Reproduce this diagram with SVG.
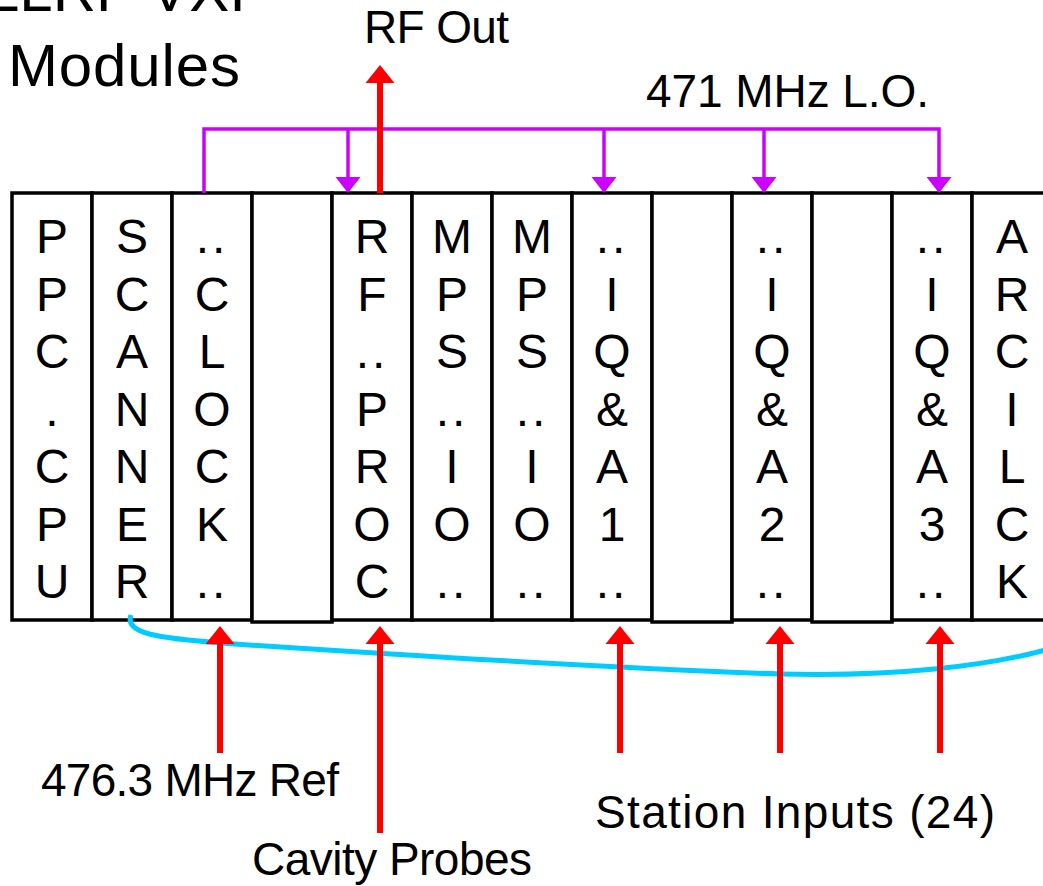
<svg xmlns="http://www.w3.org/2000/svg" width="1043" height="886" viewBox="0 0 1043 886">
<style>
.mod{fill:#fff;stroke:#000;stroke-width:3.5}
.ml{font-family:"Liberation Sans",Arial,sans-serif;font-size:48px;fill:#000;text-anchor:middle}
.lbl{font-family:"Liberation Sans",Arial,sans-serif;font-size:46px;fill:#000}
.ttl{font-family:"Liberation Sans",Arial,sans-serif;font-size:60px;fill:#000}
.red{stroke:#FF0000;stroke-width:6;fill:none}
.pur{stroke:#CC00FF;stroke-width:3.5;fill:none}
.cyan{stroke:#00CCFF;stroke-width:5;fill:none}
</style>
<defs>
<marker id="ahRed" markerUnits="userSpaceOnUse" viewBox="0 -15 18 30" markerWidth="18" markerHeight="30" refX="0" refY="0" orient="auto">
<path d="M0,-14.5 L18,0 L0,14.5 z" fill="#FF0000"/>
</marker>
<marker id="ahPur" markerUnits="userSpaceOnUse" viewBox="0 -13 16 26" markerWidth="16" markerHeight="26" refX="0" refY="0" orient="auto">
<path d="M0,-12.5 L16,0 L0,12.5 z" fill="#CC00FF"/>
</marker>
</defs>
<rect x="0" y="0" width="1043" height="886" fill="#fff"/>

<g id="title">
<text class="ttl" x="246" y="11" text-anchor="end">LLRF VXI</text>
<text class="ttl" x="8" y="86" textLength="232">Modules</text>
</g>

<g id="mod-ppc-cpu">
<rect class="mod" x="12" y="193" width="80" height="427"/>
<text class="ml" x="52" y="253">P</text><text class="ml" x="52" y="310.5">P</text><text class="ml" x="52" y="368">C</text><text class="ml" x="52" y="425.5">.</text><text class="ml" x="52" y="483">C</text><text class="ml" x="52" y="540.5">P</text><text class="ml" x="52" y="598">U</text>
</g>
<g id="mod-scanner">
<rect class="mod" x="92" y="193" width="80" height="427"/>
<text class="ml" x="132" y="253">S</text><text class="ml" x="132" y="310.5">C</text><text class="ml" x="132" y="368">A</text><text class="ml" x="132" y="425.5">N</text><text class="ml" x="132" y="483">N</text><text class="ml" x="132" y="540.5">E</text><text class="ml" x="132" y="598">R</text>
</g>
<g id="mod-clock">
<rect class="mod" x="172" y="193" width="80" height="427"/>
<text class="ml" x="212" y="253" letter-spacing="3">..</text><text class="ml" x="212" y="310.5">C</text><text class="ml" x="212" y="368">L</text><text class="ml" x="212" y="425.5">O</text><text class="ml" x="212" y="483">C</text><text class="ml" x="212" y="540.5">K</text><text class="ml" x="212" y="598" letter-spacing="3">..</text>
</g>
<g id="mod-blank1">
<rect class="mod" x="252" y="193" width="80" height="429"/>
</g>
<g id="mod-rf-proc">
<rect class="mod" x="332" y="193" width="80" height="427"/>
<text class="ml" x="372" y="253">R</text><text class="ml" x="372" y="310.5">F</text><text class="ml" x="372" y="368" letter-spacing="3">..</text><text class="ml" x="372" y="425.5">P</text><text class="ml" x="372" y="483">R</text><text class="ml" x="372" y="540.5">O</text><text class="ml" x="372" y="598">C</text>
</g>
<g id="mod-mps-io-1">
<rect class="mod" x="412" y="193" width="80" height="427"/>
<text class="ml" x="452" y="253">M</text><text class="ml" x="452" y="310.5">P</text><text class="ml" x="452" y="368">S</text><text class="ml" x="452" y="425.5" letter-spacing="3">..</text><text class="ml" x="452" y="483">I</text><text class="ml" x="452" y="540.5">O</text><text class="ml" x="452" y="598" letter-spacing="3">..</text>
</g>
<g id="mod-mps-io-2">
<rect class="mod" x="492" y="193" width="80" height="427"/>
<text class="ml" x="532" y="253">M</text><text class="ml" x="532" y="310.5">P</text><text class="ml" x="532" y="368">S</text><text class="ml" x="532" y="425.5" letter-spacing="3">..</text><text class="ml" x="532" y="483">I</text><text class="ml" x="532" y="540.5">O</text><text class="ml" x="532" y="598" letter-spacing="3">..</text>
</g>
<g id="mod-iqa1">
<rect class="mod" x="572" y="193" width="80" height="427"/>
<text class="ml" x="612" y="253" letter-spacing="3">..</text><text class="ml" x="612" y="310.5">I</text><text class="ml" x="612" y="368">Q</text><text class="ml" x="612" y="425.5">&amp;</text><text class="ml" x="612" y="483">A</text><text class="ml" x="612" y="540.5">1</text><text class="ml" x="612" y="598" letter-spacing="3">..</text>
</g>
<g id="mod-blank2">
<rect class="mod" x="652" y="193" width="80" height="429"/>
</g>
<g id="mod-iqa2">
<rect class="mod" x="732" y="193" width="80" height="427"/>
<text class="ml" x="772" y="253" letter-spacing="3">..</text><text class="ml" x="772" y="310.5">I</text><text class="ml" x="772" y="368">Q</text><text class="ml" x="772" y="425.5">&amp;</text><text class="ml" x="772" y="483">A</text><text class="ml" x="772" y="540.5">2</text><text class="ml" x="772" y="598" letter-spacing="3">..</text>
</g>
<g id="mod-blank3">
<rect class="mod" x="812" y="193" width="80" height="429"/>
</g>
<g id="mod-iqa3">
<rect class="mod" x="892" y="193" width="80" height="427"/>
<text class="ml" x="932" y="253" letter-spacing="3">..</text><text class="ml" x="932" y="310.5">I</text><text class="ml" x="932" y="368">Q</text><text class="ml" x="932" y="425.5">&amp;</text><text class="ml" x="932" y="483">A</text><text class="ml" x="932" y="540.5">3</text><text class="ml" x="932" y="598" letter-spacing="3">..</text>
</g>
<g id="mod-arcilck">
<rect class="mod" x="972" y="193" width="80" height="427"/>
<text class="ml" x="1012" y="253">A</text><text class="ml" x="1012" y="310.5">R</text><text class="ml" x="1012" y="368">C</text><text class="ml" x="1012" y="425.5">I</text><text class="ml" x="1012" y="483">L</text><text class="ml" x="1012" y="540.5">C</text><text class="ml" x="1012" y="598">K</text>
</g>

<g id="connectors">
<path class="cyan" d="M131,615 C124,634 160,638 220,643 C400,655 600,668 780,674 C900,677 990,665 1045,650"/>
<path class="pur" d="M204,193 V129 H939 V177" marker-end="url(#ahPur)"/>
<line class="pur" x1="348" y1="129" x2="348" y2="177" marker-end="url(#ahPur)"/>
<line class="pur" x1="604" y1="129" x2="604" y2="177" marker-end="url(#ahPur)"/>
<line class="pur" x1="764" y1="129" x2="764" y2="177" marker-end="url(#ahPur)"/>
<line class="red" x1="380" y1="193" x2="380" y2="83" marker-end="url(#ahRed)"/>
<line class="red" x1="220" y1="753" x2="220" y2="644" marker-end="url(#ahRed)"/>
<line class="red" x1="380" y1="833" x2="380" y2="644" marker-end="url(#ahRed)"/>
<line class="red" x1="620" y1="753" x2="620" y2="644" marker-end="url(#ahRed)"/>
<line class="red" x1="780" y1="753" x2="780" y2="644" marker-end="url(#ahRed)"/>
<line class="red" x1="940" y1="753" x2="940" y2="644" marker-end="url(#ahRed)"/>
</g>

<g id="labels">
<text class="lbl" x="364" y="43" textLength="145">RF Out</text>
<text class="lbl" x="646" y="107" textLength="283">471 MHz L.O.</text>
<text class="lbl" x="41" y="796" textLength="298">476.3 MHz Ref</text>
<text class="lbl" x="252" y="875" textLength="280">Cavity Probes</text>
<text class="lbl" x="595" y="828" textLength="400">Station Inputs (24)</text>
</g>
</svg>
